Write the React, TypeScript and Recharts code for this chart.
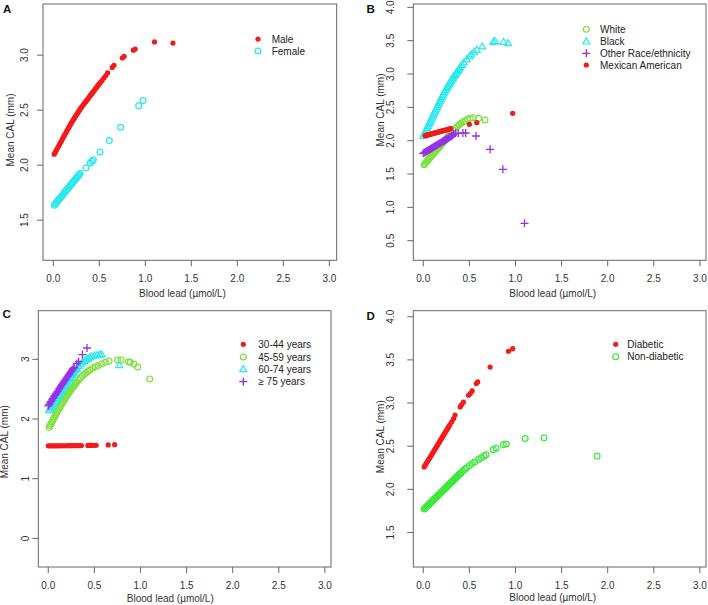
import { Scatter, ScatterChart, XAxis, YAxis } from "recharts";

type Pt = [number, number];
type Kind = "dot" | "circle" | "triangle" | "plus";

// ---- tick values ----
const X_TICKS = [0, 0.5, 1, 1.5, 2, 2.5, 3];
const Y_TICKS_A = [1.5, 2, 2.5, 3];
const Y_TICKS_B = [0.5, 1, 1.5, 2, 2.5, 3, 3.5, 4];
const Y_TICKS_C = [0, 1, 2, 3];
const Y_TICKS_D = [1.5, 2, 2.5, 3, 3.5, 4];

// ---- series names ----
const SEX_NAMES = ["Male", "Female"];
const RACE_NAMES = ["White", "Black", "Other Race/ethnicity", "Mexican American"];
const AGE_NAMES = ["30-44 years", "45-59 years", "60-74 years", "\u2265 75 years"];
const DIAB_NAMES = ["Diabetic", "Non-diabetic"];

// ---- A: sex ----
const maleA: Pt[] = [
  [0.01, 2.1], [0.02, 2.115], [0.03, 2.131], [0.04, 2.146], [0.05, 2.162], [0.06, 2.177],
  [0.07, 2.193], [0.08, 2.208], [0.09, 2.224], [0.1, 2.24], [0.11, 2.255], [0.12, 2.27],
  [0.13, 2.285], [0.14, 2.3], [0.15, 2.315], [0.16, 2.33], [0.17, 2.345], [0.18, 2.36],
  [0.19, 2.375], [0.2, 2.389], [0.21, 2.403], [0.22, 2.416], [0.23, 2.429], [0.24, 2.442],
  [0.25, 2.455], [0.26, 2.468], [0.27, 2.481], [0.28, 2.494], [0.29, 2.507], [0.3, 2.519],
  [0.31, 2.531], [0.32, 2.542], [0.33, 2.553], [0.34, 2.564], [0.35, 2.575], [0.36, 2.586],
  [0.37, 2.597], [0.38, 2.608], [0.39, 2.619], [0.4, 2.63], [0.41, 2.641], [0.42, 2.652],
  [0.43, 2.663], [0.44, 2.674], [0.45, 2.685], [0.46, 2.696], [0.47, 2.707], [0.48, 2.718],
  [0.49, 2.729], [0.5, 2.74], [0.51, 2.75], [0.53, 2.77], [0.55, 2.792], [0.57, 2.815],
  [0.59, 2.838], [0.64, 2.888], [0.66, 2.908], [0.75, 2.975], [0.77, 2.99], [0.87, 3.045],
  [0.89, 3.055], [1.1, 3.12], [1.3, 3.11],
];
const femaleA: Pt[] = [
  [0.01, 1.636], [0.02, 1.646], [0.03, 1.657], [0.04, 1.667], [0.05, 1.677], [0.06, 1.688],
  [0.07, 1.698], [0.08, 1.708], [0.09, 1.718], [0.1, 1.729], [0.11, 1.739], [0.12, 1.749],
  [0.13, 1.759], [0.14, 1.77], [0.15, 1.78], [0.16, 1.79], [0.17, 1.8], [0.18, 1.811],
  [0.19, 1.821], [0.2, 1.831], [0.21, 1.841], [0.22, 1.852], [0.23, 1.862], [0.24, 1.872],
  [0.25, 1.882], [0.26, 1.893], [0.27, 1.903], [0.28, 1.913], [0.29, 1.923], [0.355, 1.974],
  [0.4, 2.02], [0.42, 2.035], [0.435, 2.05], [0.508, 2.119], [0.609, 2.225], [0.732, 2.345],
  [0.928, 2.539], [0.975, 2.587],
];

// ---- B: race/ethnicity ----
const whiteB: Pt[] = [
  [0.01, 1.64], [0.02, 1.658], [0.03, 1.675], [0.04, 1.693], [0.05, 1.71], [0.06, 1.726],
  [0.07, 1.742], [0.08, 1.758], [0.09, 1.774], [0.1, 1.79], [0.11, 1.806], [0.12, 1.822],
  [0.13, 1.838], [0.14, 1.854], [0.15, 1.87], [0.16, 1.886], [0.17, 1.902], [0.18, 1.918],
  [0.19, 1.934], [0.2, 1.95], [0.21, 1.966], [0.22, 1.982], [0.23, 1.998], [0.24, 2.014],
  [0.25, 2.03], [0.26, 2.046], [0.27, 2.062], [0.28, 2.078], [0.29, 2.094], [0.31, 2.126],
  [0.33, 2.158], [0.35, 2.19], [0.37, 2.215], [0.39, 2.24], [0.41, 2.26], [0.43, 2.28],
  [0.45, 2.3], [0.48, 2.32], [0.51, 2.335], [0.54, 2.345], [0.6, 2.335], [0.67, 2.31],
];
const blackB: Pt[] = [
  [0, 2.07], [0.01, 2.099], [0.02, 2.128], [0.03, 2.157], [0.04, 2.186], [0.05, 2.215],
  [0.06, 2.244], [0.07, 2.273], [0.08, 2.302], [0.09, 2.331], [0.1, 2.36], [0.11, 2.389],
  [0.12, 2.418], [0.13, 2.447], [0.14, 2.476], [0.15, 2.505], [0.16, 2.534], [0.17, 2.563],
  [0.18, 2.592], [0.19, 2.621], [0.2, 2.65], [0.21, 2.678], [0.22, 2.705], [0.23, 2.731],
  [0.24, 2.757], [0.25, 2.781], [0.26, 2.805], [0.27, 2.828], [0.28, 2.85], [0.29, 2.873],
  [0.3, 2.895], [0.31, 2.918], [0.32, 2.94], [0.33, 2.96], [0.34, 2.98], [0.35, 3.0],
  [0.36, 3.02], [0.37, 3.04], [0.38, 3.06], [0.39, 3.08], [0.4, 3.1], [0.42, 3.135],
  [0.44, 3.17], [0.47, 3.215], [0.5, 3.26], [0.52, 3.29], [0.55, 3.33], [0.58, 3.36],
  [0.64, 3.41], [0.76, 3.48], [0.78, 3.49], [0.87, 3.48], [0.92, 3.46],
];
const otherB: Pt[] = [
  [0, 1.81], [0.01, 1.818], [0.02, 1.827], [0.03, 1.835], [0.04, 1.844], [0.05, 1.852],
  [0.06, 1.86], [0.07, 1.869], [0.08, 1.877], [0.09, 1.886], [0.1, 1.894], [0.11, 1.903],
  [0.12, 1.911], [0.13, 1.92], [0.14, 1.928], [0.15, 1.937], [0.16, 1.945], [0.17, 1.953],
  [0.18, 1.961], [0.19, 1.97], [0.2, 1.978], [0.21, 1.987], [0.22, 1.995], [0.23, 2.004],
  [0.24, 2.012], [0.25, 2.021], [0.26, 2.029], [0.27, 2.038], [0.28, 2.046], [0.29, 2.054],
  [0.3, 2.062], [0.31, 2.071], [0.32, 2.08], [0.33, 2.1], [0.35, 2.11], [0.38, 2.11],
  [0.43, 2.115], [0.46, 2.115], [0.573, 2.07], [0.725, 1.87], [0.863, 1.57], [1.098, 0.76],
];
const mexicanB: Pt[] = [
  [0.02, 2.075], [0.03, 2.079], [0.04, 2.083], [0.05, 2.087], [0.06, 2.091], [0.07, 2.094],
  [0.08, 2.098], [0.09, 2.102], [0.1, 2.106], [0.11, 2.11], [0.12, 2.113], [0.13, 2.117],
  [0.14, 2.121], [0.15, 2.125], [0.16, 2.129], [0.17, 2.132], [0.18, 2.136], [0.19, 2.14],
  [0.2, 2.144], [0.21, 2.148], [0.22, 2.152], [0.23, 2.155], [0.24, 2.159], [0.25, 2.163],
  [0.26, 2.167], [0.27, 2.17], [0.28, 2.174], [0.29, 2.178], [0.3, 2.182], [0.5, 2.246],
  [0.58, 2.27], [0.97, 2.41],
];

// ---- C: age ----
const age3044C: Pt[] = [
  [0, 1.55], [0.02, 1.55], [0.04, 1.55], [0.06, 1.551], [0.08, 1.551], [0.1, 1.551],
  [0.12, 1.551], [0.14, 1.552], [0.16, 1.552], [0.18, 1.552], [0.2, 1.552], [0.22, 1.553],
  [0.24, 1.553], [0.26, 1.553], [0.28, 1.554], [0.3, 1.554], [0.32, 1.554], [0.34, 1.555],
  [0.36, 1.555], [0.43, 1.557], [0.45, 1.558], [0.47, 1.558], [0.5, 1.559], [0.52, 1.56],
  [0.65, 1.565], [0.72, 1.57],
];
const age4559C: Pt[] = [
  [0.01, 1.86], [0.02, 1.89], [0.03, 1.92], [0.04, 1.95], [0.05, 1.98], [0.06, 2.01],
  [0.07, 2.04], [0.08, 2.07], [0.09, 2.1], [0.1, 2.128], [0.11, 2.155], [0.12, 2.183],
  [0.13, 2.21], [0.14, 2.238], [0.15, 2.265], [0.16, 2.29], [0.17, 2.315], [0.18, 2.34],
  [0.19, 2.365], [0.2, 2.388], [0.21, 2.41], [0.22, 2.433], [0.23, 2.455], [0.24, 2.478],
  [0.25, 2.5], [0.26, 2.52], [0.27, 2.54], [0.28, 2.56], [0.29, 2.58], [0.3, 2.6],
  [0.31, 2.62], [0.33, 2.655], [0.35, 2.69], [0.37, 2.72], [0.39, 2.75], [0.41, 2.775],
  [0.43, 2.8], [0.45, 2.82], [0.48, 2.85], [0.51, 2.875], [0.54, 2.895], [0.58, 2.925],
  [0.62, 2.95], [0.66, 2.97], [0.75, 2.99], [0.79, 2.99], [0.87, 2.96], [0.89, 2.95],
  [0.93, 2.92], [0.97, 2.87], [1.1, 2.67],
];
const age6074C: Pt[] = [
  [0.01, 2.15], [0.02, 2.175], [0.03, 2.2], [0.04, 2.225], [0.05, 2.25], [0.06, 2.275],
  [0.07, 2.3], [0.08, 2.325], [0.09, 2.35], [0.1, 2.375], [0.11, 2.4], [0.12, 2.425],
  [0.13, 2.45], [0.14, 2.475], [0.15, 2.5], [0.16, 2.525], [0.17, 2.55], [0.18, 2.573],
  [0.19, 2.595], [0.2, 2.618], [0.21, 2.64], [0.22, 2.663], [0.23, 2.685], [0.24, 2.708],
  [0.25, 2.73], [0.26, 2.75], [0.27, 2.77], [0.28, 2.79], [0.29, 2.81], [0.3, 2.83],
  [0.31, 2.85], [0.33, 2.885], [0.35, 2.915], [0.37, 2.945], [0.39, 2.97], [0.41, 2.99],
  [0.43, 3.01], [0.45, 3.03], [0.47, 3.045], [0.5, 3.06], [0.53, 3.07], [0.56, 3.08],
  [0.58, 3.08], [0.77, 2.9],
];
const age75C: Pt[] = [
  [0, 2.22], [0.01, 2.245], [0.02, 2.27], [0.03, 2.295], [0.04, 2.32], [0.05, 2.345],
  [0.06, 2.37], [0.07, 2.393], [0.08, 2.415], [0.09, 2.438], [0.1, 2.46], [0.11, 2.485],
  [0.12, 2.51], [0.13, 2.533], [0.14, 2.555], [0.15, 2.578], [0.16, 2.6], [0.17, 2.623],
  [0.18, 2.645], [0.19, 2.668], [0.2, 2.69], [0.21, 2.713], [0.22, 2.735], [0.23, 2.758],
  [0.24, 2.78], [0.25, 2.803], [0.26, 2.825], [0.27, 2.843], [0.28, 2.86], [0.31, 2.93],
  [0.33, 2.96], [0.37, 3.08], [0.42, 3.19],
];

// ---- D: diabetes ----
const diabeticD: Pt[] = [
  [0.01, 2.26], [0.02, 2.278], [0.03, 2.295], [0.04, 2.313], [0.05, 2.33], [0.06, 2.348],
  [0.07, 2.365], [0.08, 2.383], [0.09, 2.4], [0.1, 2.418], [0.11, 2.435], [0.12, 2.453],
  [0.13, 2.47], [0.14, 2.488], [0.15, 2.505], [0.16, 2.523], [0.17, 2.54], [0.18, 2.558],
  [0.19, 2.575], [0.2, 2.593], [0.21, 2.61], [0.22, 2.628], [0.23, 2.645], [0.24, 2.663],
  [0.25, 2.68], [0.26, 2.698], [0.27, 2.715], [0.28, 2.733], [0.29, 2.75], [0.31, 2.785],
  [0.33, 2.82], [0.345, 2.86], [0.4, 2.955], [0.415, 2.98], [0.435, 3.01], [0.49, 3.09],
  [0.51, 3.11], [0.53, 3.14], [0.575, 3.225], [0.59, 3.245], [0.725, 3.417], [0.924, 3.6],
  [0.97, 3.63],
];
const nonDiabeticD: Pt[] = [
  [0.01, 1.772], [0.02, 1.783], [0.03, 1.793], [0.04, 1.804], [0.05, 1.814], [0.06, 1.825],
  [0.07, 1.835], [0.08, 1.846], [0.09, 1.857], [0.1, 1.867], [0.11, 1.878], [0.12, 1.888],
  [0.13, 1.899], [0.14, 1.909], [0.15, 1.92], [0.16, 1.93], [0.17, 1.941], [0.18, 1.951],
  [0.19, 1.962], [0.2, 1.972], [0.21, 1.983], [0.22, 1.993], [0.23, 2.004], [0.24, 2.014],
  [0.25, 2.025], [0.26, 2.035], [0.27, 2.046], [0.28, 2.056], [0.29, 2.067], [0.3, 2.077],
  [0.31, 2.088], [0.32, 2.098], [0.33, 2.109], [0.34, 2.119], [0.35, 2.13], [0.36, 2.14],
  [0.37, 2.151], [0.38, 2.161], [0.39, 2.172], [0.4, 2.182], [0.41, 2.193], [0.43, 2.213],
  [0.45, 2.232], [0.47, 2.25], [0.5, 2.275], [0.53, 2.3], [0.56, 2.32], [0.6, 2.345],
  [0.63, 2.365], [0.66, 2.385], [0.68, 2.4], [0.76, 2.46], [0.79, 2.475], [0.87, 2.52],
  [0.9, 2.525], [1.105, 2.59], [1.31, 2.597], [1.885, 2.385],
];

const FONT = '"Liberation Sans", Arial, Helvetica, sans-serif';
const AXIS = "#666";
const INK = "#333";
const RED = "#f41a1a";
const CYAN = "#2ae8ec";
const LIME = "#80e040";
const GREEN = "#3ee83e";
const PURPLE = "#9630e6";

interface Series {
  name: string;
  data: Pt[];
  kind: Kind;
  color: string;
}

interface PanelCfg {
  letter: string;
  letterAt: [number, number];
  left: number;
  top: number;
  h: number;
  box: [number, number, number, number]; // left, top, right, bottom (page px)
  xDomain: [number, number];
  yDomain: [number, number];
  yTicks: number[];
  yDigits: number;
  yGap: number;
  xTitleAt: [number, number];
  yTitleAt: [number, number];
  legend: { sx: number; tx: number; ys: number[] };
  series: Series[];
}

const PANELS: PanelCfg[] = [
  {
    letter: "A",
    letterAt: [3, 13],
    left: 0,
    top: 0,
    h: 302,
    box: [43, 4, 336.7, 260.3],
    xDomain: [-0.112, 3.08],
    yDomain: [1.135, 3.465],
    yTicks: Y_TICKS_A,
    yDigits: 1,
    yGap: 18,
    xTitleAt: [182.5, 293],
    yTitleAt: [10, 130],
    legend: { sx: 258, tx: 271.7, ys: [39, 51] },
    series: [
      { name: SEX_NAMES[0], data: maleA, kind: "dot", color: RED },
      { name: SEX_NAMES[1], data: femaleA, kind: "circle", color: CYAN },
    ],
  },
  {
    letter: "B",
    letterAt: [366.5, 13],
    left: 354,
    top: 0,
    h: 302,
    box: [413.3, 4, 706, 260.3],
    xDomain: [-0.108, 3.066],
    yDomain: [0.206, 4.05],
    yTicks: Y_TICKS_B,
    yDigits: 1,
    yGap: 22.6,
    xTitleAt: [552.7, 293],
    yTitleAt: [380.7, 110],
    legend: { sx: 586.3, tx: 600, ys: [29.3, 41.7, 53.3, 65] },
    series: [
      { name: RACE_NAMES[0], data: whiteB, kind: "circle", color: LIME },
      { name: RACE_NAMES[1], data: blackB, kind: "triangle", color: CYAN },
      { name: RACE_NAMES[2], data: otherB, kind: "plus", color: PURPLE },
      { name: RACE_NAMES[3], data: mexicanB, kind: "dot", color: RED },
    ],
  },
  {
    letter: "C",
    letterAt: [2.5, 318],
    left: 0,
    top: 303,
    h: 302,
    box: [38.3, 310.7, 331, 567],
    xDomain: [-0.108, 3.066],
    yDomain: [-0.48, 3.815],
    yTicks: Y_TICKS_C,
    yDigits: 0,
    yGap: 13,
    xTitleAt: [170.3, 598],
    yTitleAt: [5, 441.7],
    legend: { sx: 243.3, tx: 258.3, ys: [344.3, 357, 369.3, 381.7] },
    series: [
      { name: AGE_NAMES[0], data: age3044C, kind: "dot", color: RED },
      { name: AGE_NAMES[1], data: age4559C, kind: "circle", color: LIME },
      { name: AGE_NAMES[2], data: age6074C, kind: "triangle", color: CYAN },
      { name: AGE_NAMES[3], data: age75C, kind: "plus", color: PURPLE },
    ],
  },
  {
    letter: "D",
    letterAt: [366.5, 319.5],
    left: 354,
    top: 303,
    h: 302,
    box: [413.3, 310.7, 706, 567],
    xDomain: [-0.108, 3.066],
    yDomain: [1.1, 4.07],
    yTicks: Y_TICKS_D,
    yDigits: 1,
    yGap: 22.6,
    xTitleAt: [552.7, 597.7],
    yTitleAt: [380.7, 436.7],
    legend: { sx: 615.7, tx: 627.3, ys: [344.3, 356.7] },
    series: [
      { name: DIAB_NAMES[0], data: diabeticD, kind: "dot", color: RED },
      { name: DIAB_NAMES[1], data: nonDiabeticD, kind: "circle", color: GREEN },
    ],
  },
];

const toXY = (pts: Pt[]) => pts.map(([x, y]) => ({ x, y }));

function Marker({ kind, cx, cy, color }: { kind: Kind; cx: number; cy: number; color: string }) {
  if (cx == null || cy == null) return null;
  switch (kind) {
    case "dot":
      return <circle cx={cx} cy={cy} r={2.6} fill={color} />;
    case "circle":
      return <circle cx={cx} cy={cy} r={2.9} fill="none" stroke={color} strokeWidth={1.25} />;
    case "triangle":
      return (
        <polygon
          points={`${cx},${cy - 3.7} ${cx - 3.5},${cy + 2.3} ${cx + 3.5},${cy + 2.3}`}
          fill="none"
          stroke={color}
          strokeWidth={1.2}
        />
      );
    default:
      return (
        <path
          d={`M${cx - 4},${cy}H${cx + 4}M${cx},${cy - 4}V${cy + 4}`}
          stroke={color}
          strokeWidth={1.3}
          fill="none"
        />
      );
  }
}

function YTick(props: any) {
  const { y, payload, lx, digits } = props;
  return (
    <text
      x={lx}
      y={y}
      transform={`rotate(-90 ${lx} ${y})`}
      textAnchor="middle"
      dominantBaseline="central"
      fontSize={10}
      fill={INK}
      fontFamily={FONT}
    >
      {Number(payload.value).toFixed(digits)}
    </text>
  );
}

function Panel({ p }: { p: PanelCfg }) {
  const [bl, bt, br, bb] = p.box;
  const yAxisW = bl - p.left;
  const xAxisH = p.top + p.h - bb;
  return (
    <div style={{ position: "absolute", left: p.left, top: p.top }}>
      <ScatterChart
        width={354}
        height={p.h}
        margin={{ top: bt - p.top, right: p.left + 354 - br, bottom: 0, left: 0 }}
      >
        <XAxis
          type="number"
          dataKey="x"
          domain={p.xDomain}
          ticks={X_TICKS}
          interval={0}
          allowDataOverflow
          axisLine={false}
          tickLine={{ stroke: AXIS }}
          tickSize={6}
          tickMargin={9}
          height={xAxisH}
          tick={{ fontSize: 10, fill: INK, fontFamily: FONT }}
          tickFormatter={(v: number) => v.toFixed(1)}
        />
        <YAxis
          type="number"
          dataKey="y"
          domain={p.yDomain}
          ticks={p.yTicks}
          interval={0}
          allowDataOverflow
          axisLine={false}
          tickLine={{ stroke: AXIS }}
          tickSize={6}
          width={yAxisW}
          tick={(tp: any) => <YTick {...tp} lx={yAxisW - p.yGap} digits={p.yDigits} />}
        />
        {p.series.map((s) => (
          <Scatter
            key={s.name}
            name={s.name}
            data={toXY(s.data)}
            isAnimationActive={false}
            shape={(sp: any) => <Marker kind={s.kind} color={s.color} cx={sp.cx} cy={sp.cy} />}
          />
        ))}
      </ScatterChart>
    </div>
  );
}

function Decor({ p }: { p: PanelCfg }) {
  const [bl, bt, br, bb] = p.box;
  return (
    <g fontFamily={FONT}>
      <rect x={bl} y={bt} width={br - bl} height={bb - bt} fill="none" stroke={AXIS} strokeWidth={1} />
      <text x={p.letterAt[0]} y={p.letterAt[1]} fontSize={11.5} fontWeight="bold" fill="#111">
        {p.letter}
      </text>
      <text x={p.xTitleAt[0]} y={p.xTitleAt[1]} textAnchor="middle" dominantBaseline="central" fontSize={10} fill={INK}>
        Blood lead (µmol/L)
      </text>
      <text
        x={p.yTitleAt[0]}
        y={p.yTitleAt[1]}
        transform={`rotate(-90 ${p.yTitleAt[0]} ${p.yTitleAt[1]})`}
        textAnchor="middle"
        dominantBaseline="central"
        fontSize={10}
        fill={INK}
      >
        Mean CAL (mm)
      </text>
      {p.series.map((s, i) => (
        <g key={s.name}>
          <Marker kind={s.kind} color={s.color} cx={p.legend.sx} cy={p.legend.ys[i]} />
          <text x={p.legend.tx} y={p.legend.ys[i]} dominantBaseline="central" fontSize={10} fill="#222">
            {s.name}
          </text>
        </g>
      ))}
    </g>
  );
}

export default function App() {
  return (
    <div
      style={{
        position: "absolute",
        left: 0,
        top: 0,
        width: 708,
        height: 605,
        background: "#fff",
        overflow: "hidden",
        fontFamily: FONT,
      }}
    >
      {PANELS.map((p) => (
        <Panel key={p.letter} p={p} />
      ))}
      <svg
        width={708}
        height={605}
        style={{ position: "absolute", left: 0, top: 0, pointerEvents: "none" }}
      >
        {PANELS.map((p) => (
          <Decor key={p.letter} p={p} />
        ))}
      </svg>
    </div>
  );
}
